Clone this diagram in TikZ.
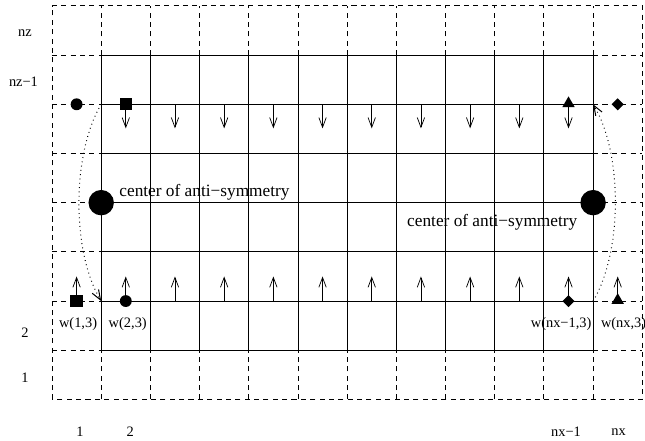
\documentclass[tikz,border=0pt]{standalone}
\usepackage{fontspec}
\setmainfont{Liberation Serif}
\usetikzlibrary{shapes.geometric, arrows.meta, positioning}
\tikzstyle{cellout} = [line width=0.6pt, dash pattern=on 3.5pt off 3pt]
\tikzstyle{cellin} = [line width=0.6pt]
\tikzstyle{flux} = [line width=0.5pt, -{Straight Barb[length=2.4mm,width=1.8mm]}]
\tikzstyle{swap} = [line width=0.7pt, dash pattern=on 0.6pt off 2.4pt, -{Straight Barb[length=2.4mm,width=1.8mm]}]
\tikzstyle{dot} = [circle, fill=black, inner sep=0pt, minimum size=2.9mm]
\tikzstyle{sq} = [rectangle, fill=black, inner sep=0pt, minimum size=3mm]
\tikzstyle{tri} = [regular polygon, regular polygon sides=3, fill=black, inner sep=0pt, minimum size=3.5mm]
\tikzstyle{dia} = [diamond, fill=black, inner sep=0pt, minimum size=3mm]
\tikzstyle{centre} = [circle, fill=black, inner sep=0pt, minimum size=6.2mm]
\tikzstyle{lab} = [inner sep=0pt, font=\fontsize{10}{12}\selectfont]
\tikzstyle{note} = [inner sep=0pt, font=\fontsize{12}{14}\selectfont]

\begin{document}
\begin{tikzpicture}[x=1.2cm, y=1.2cm]
    \useasboundingbox (-1.057,-0.843) rectangle (12.055,8.12);
    % ghost cells
    \draw [cellout] (0,0) rectangle (12,8);
    \foreach \x in {1,...,11} {
        \draw [cellout] (\x,7) -- (\x,8);
        \draw [cellout] (\x,0) -- (\x,1);
    }
    \foreach \y in {1,...,7} {
        \draw [cellout] (0,\y) -- (1,\y);
        \draw [cellout] (11,\y) -- (12,\y);
    }
    % interior cells
    \foreach \x in {1,...,11} \draw [cellin] (\x,1) -- (\x,7);
    \foreach \y in {1,...,7} \draw [cellin] (1,\y) -- (11,\y);
    % row and column labels
    \node (rnz) [lab] at (-0.55,7.45) {nz};
    \node (rnzm) [lab] at (-0.58,6.46) {nz−1};
    \node (rtwo) [lab] at (-0.55,1.35) {2};
    \node (rone) [lab] at (-0.55,0.45) {1};
    \node (cone) [lab] at (0.57,-0.66) {1};
    \node (ctwo) [lab] at (1.59,-0.66) {2};
    \node (cnxm) [lab] at (10.45,-0.66) {nx−1};
    \node (cnx) [lab] at (11.52,-0.66) {nx};
    % velocities
    \foreach \i in {2,...,11} {
        \coordinate (top\i) at (\i-0.5,6);
        \coordinate (dn\i) at (\i-0.5,5.51);
        \draw [flux] (top\i) -- (dn\i);
    }
    \foreach \i in {1,...,12} {
        \coordinate (bot\i) at (\i-0.5,2);
        \coordinate (up\i) at (\i-0.5,2.5);
        \draw [flux] (bot\i) -- (up\i);
    }
    % markers on the top line
    \node (dott) [dot] at (0.5,6) {};
    \node (sqt) [sq] at (1.5,6) {};
    \node (trit) [tri, yshift=0.5pt] at (10.5,6) {};
    \node (diat) [dia] at (11.5,6) {};
    % markers on the bottom line
    \node (sqb) [sq] at (0.5,2) {};
    \node (dotb) [dot] at (1.5,2) {};
    \node (diab) [dia] at (10.5,2) {};
    \node (trib) [tri, yshift=0.5pt] at (11.5,2) {};
    \node (wone) [lab] at (0.53,1.53) {w(1,3)};
    \node (wtwo) [lab] at (1.54,1.53) {w(2,3)};
    \node (wnxm) [lab] at (10.35,1.53) {w(nx−1,3)};
    \node (wnx) [lab] at (11.62,1.53) {w(nx,3)};
    % centres of anti-symmetry
    \node (cleft) [centre] at (1,4) {};
    \node (cright) [centre] at (11,4) {};
    \node (tleft) [note] at (3.10,4.22) {center of anti−symmetry};
    \node (tright) [note] at (8.95,3.60) {center of anti−symmetry};
    % mapping of the ghost values
    \coordinate (ltop) at (1,6);
    \coordinate (lbot) at (1,2);
    \coordinate (rtop) at (11,6);
    \coordinate (rbot) at (11,2);
    \draw [swap] (ltop) .. controls (0.4,5) and (0.4,3) .. (lbot);
    \draw [swap] (rbot) .. controls (11.6,3) and (11.6,5) .. (rtop);
\end{tikzpicture}
\end{document}
